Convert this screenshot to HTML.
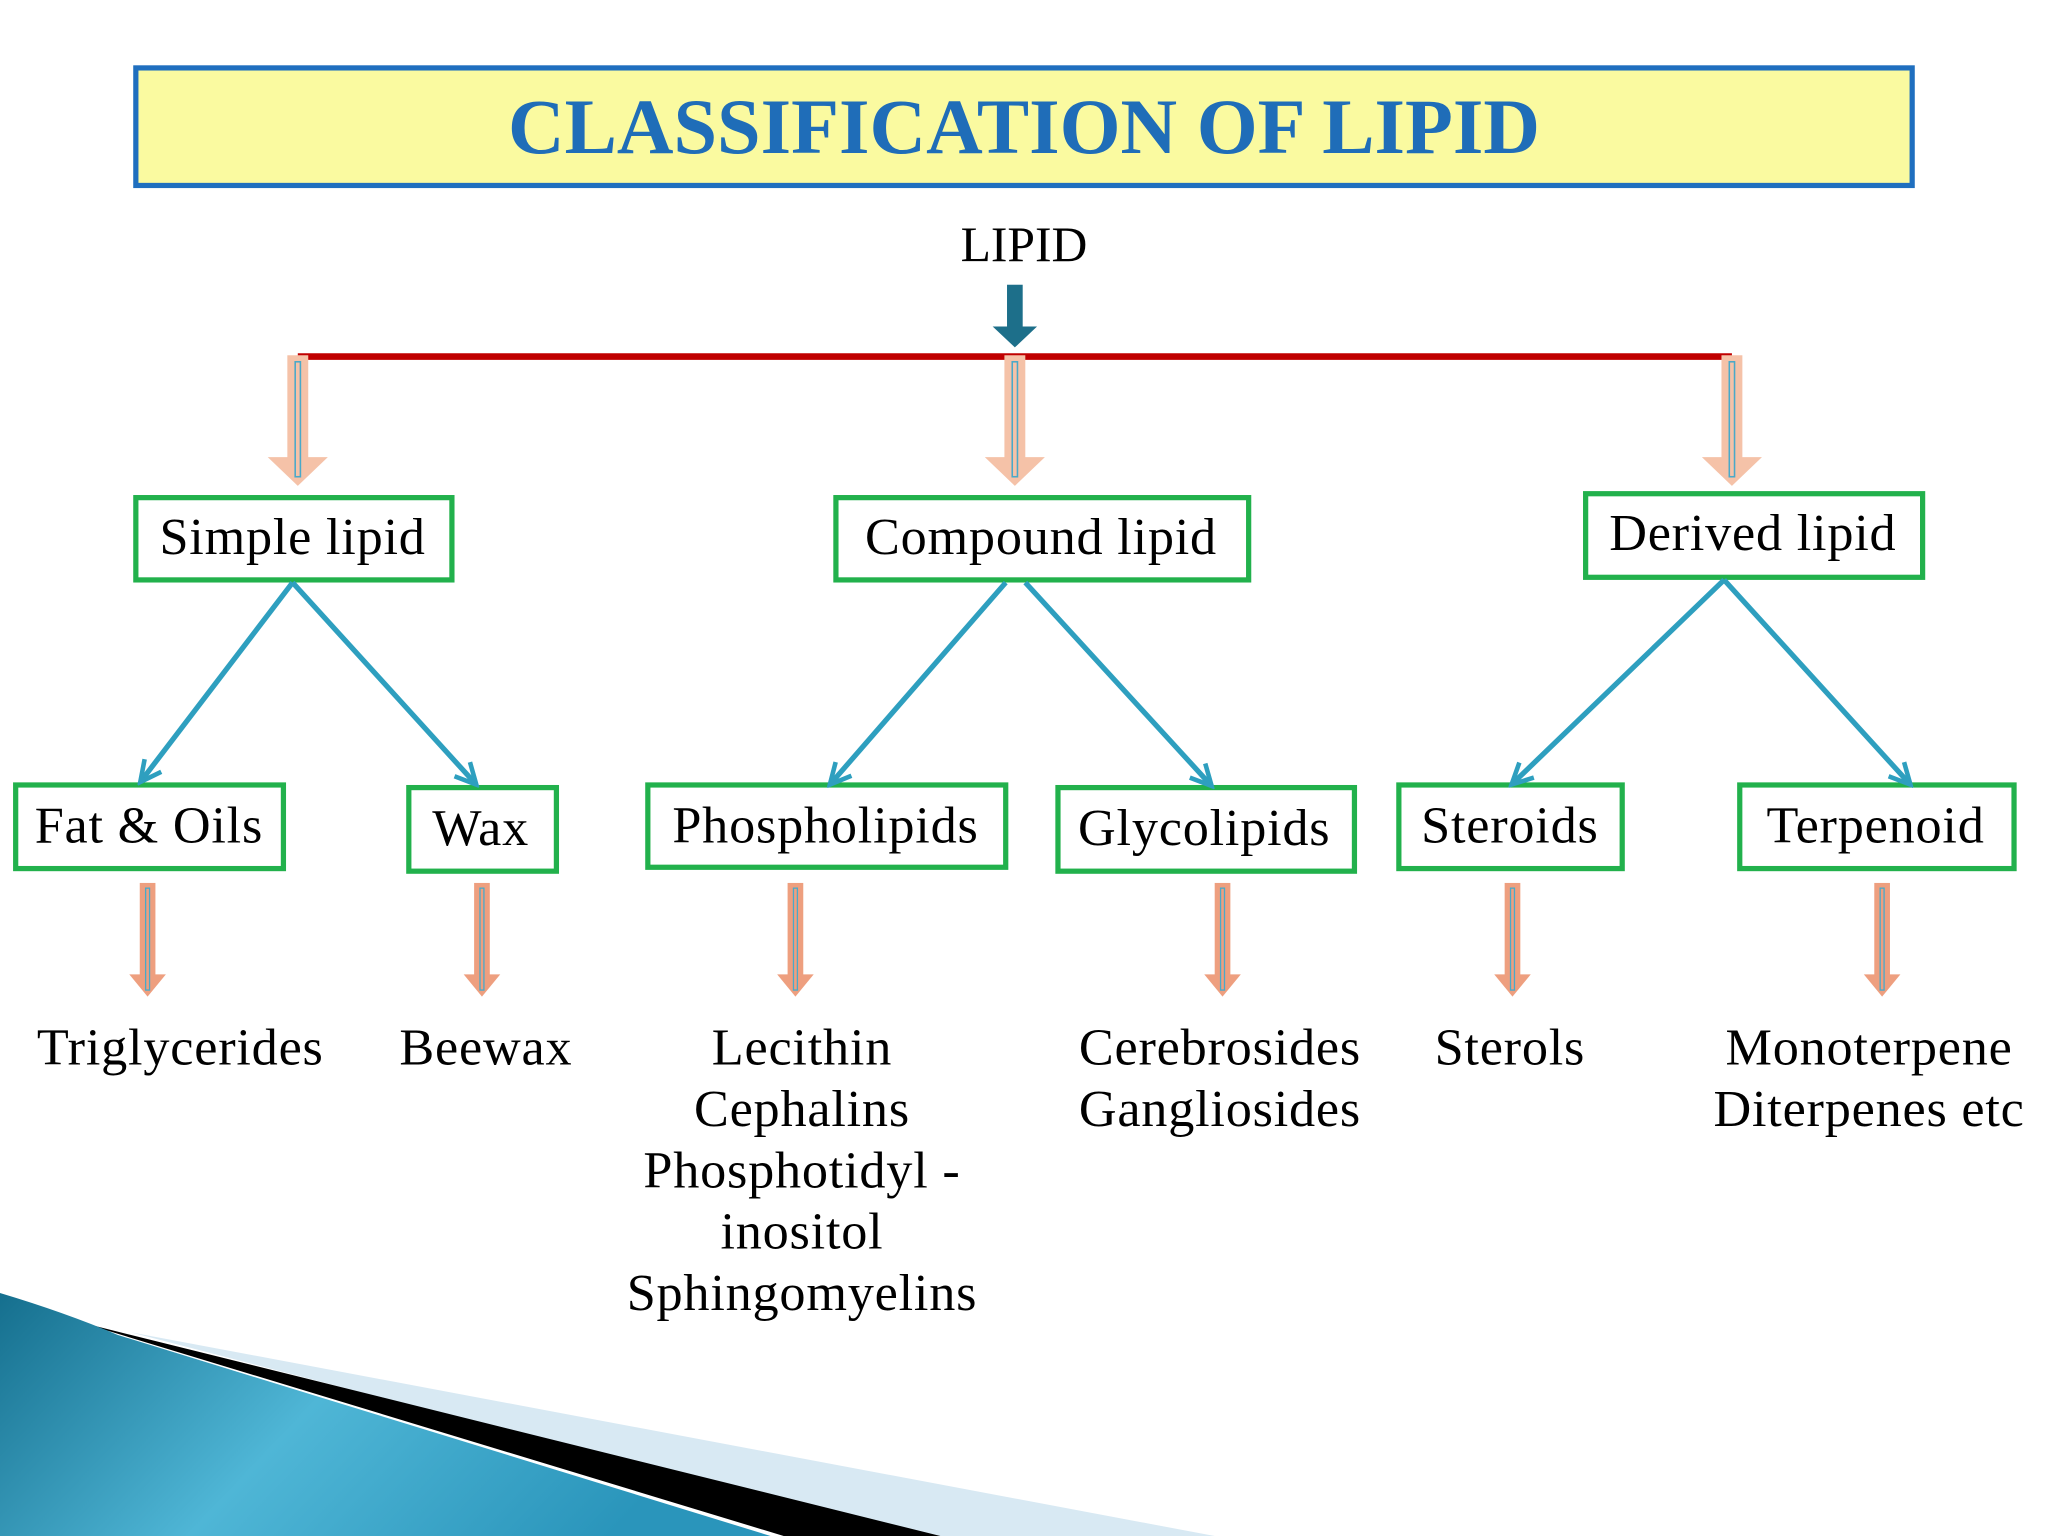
<!DOCTYPE html>
<html><head><meta charset="utf-8"><style>
html,body{margin:0;padding:0;background:#fff;}
svg{display:block;}
text{font-family:"Liberation Serif",serif;}
</style></head><body>
<svg width="2048" height="1536" viewBox="0 0 1568 1176" xmlns="http://www.w3.org/2000/svg">
<defs>
<linearGradient id="bg" x1="0" y1="0" x2="1" y2="0.3">
<stop offset="0" stop-color="#156f8e"/><stop offset="0.5" stop-color="#4fb6d6"/><stop offset="1" stop-color="#2a95bb"/>
</linearGradient>
<g id="pa"><rect x="-8" y="0" width="16" height="80" fill="#f5c2a8"/><polygon points="-23,78 23,78 0,100" fill="#f5c2a8"/><rect x="-2" y="5" width="4" height="88" fill="none" stroke="#49a9c9" stroke-width="1.2"/></g>
<g id="sa"><rect x="-6" y="0" width="12" height="72" fill="#ee9f7f"/><polygon points="-14,70 14,70 0,87" fill="#ee9f7f"/><rect x="-1.5" y="4" width="3" height="78" fill="none" stroke="#49a9c9" stroke-width="1"/></g>
<marker id="ah" markerWidth="20" markerHeight="20" refX="16" refY="10" orient="auto" markerUnits="userSpaceOnUse" viewBox="0 0 20 20"><path d="M1,2 L17,10 L1,18" fill="none" stroke="#2e9fbf" stroke-width="3.5"/></marker>
</defs>
<polygon points="100,1020 930,1176 700,1176" fill="#d8e9f3"/>
<polygon points="60,1012 100,1022 720,1176 600,1176" fill="#000"/>
<path d="M0,990 Q50,1005 90,1022 L590,1176 L0,1176 Z" fill="url(#bg)"/>
<rect x="104" y="52" width="1360" height="90" fill="#fafaa0" stroke="#1f6fbf" stroke-width="4"/>
<text x="784" y="117" text-anchor="middle" font-size="60" font-weight="bold" fill="#1f6db8">CLASSIFICATION OF LIPID</text>
<text x="784" y="200" text-anchor="middle" font-size="38">LIPID</text>
<rect x="771" y="218" width="12" height="32" fill="#1d6f8a"/>
<polygon points="760,250 794,250 777,266" fill="#1d6f8a"/>
<line x1="228" y1="273" x2="1326" y2="273" stroke="#c00000" stroke-width="5"/>
<use href="#pa" x="228" y="272"/><use href="#pa" x="777" y="272"/><use href="#pa" x="1326" y="272"/>
<g fill="none" stroke="#22b14c" stroke-width="4">
<rect x="104" y="381" width="242" height="63"/><rect x="640" y="381" width="316" height="63"/><rect x="1214" y="378" width="258" height="64"/>
<rect x="12" y="601" width="205" height="64"/><rect x="313" y="603" width="113" height="64"/><rect x="496" y="601" width="274" height="63"/>
<rect x="810" y="603" width="227" height="64"/><rect x="1071" y="601" width="171" height="64"/><rect x="1332" y="601" width="210" height="64"/>
</g>
<g font-size="40" text-anchor="middle" letter-spacing="0.6">
<text x="224" y="424">Simple lipid</text><text x="797" y="424">Compound lipid</text><text x="1342" y="421">Derived lipid</text>
<text x="114" y="645">Fat &amp; Oils</text><text x="368" y="647">Wax</text><text x="632" y="645">Phospholipids</text>
<text x="922" y="647">Glycolipids</text><text x="1156" y="645">Steroids</text><text x="1436" y="645">Terpenoid</text>
</g>
<g stroke="#2e9fbf" stroke-width="4" marker-end="url(#ah)">
<line x1="224" y1="446" x2="108" y2="598"/><line x1="224" y1="446" x2="364" y2="600"/>
<line x1="770" y1="446" x2="636" y2="600"/><line x1="785" y1="446" x2="927" y2="601"/>
<line x1="1320" y1="444" x2="1158" y2="600"/><line x1="1320" y1="444" x2="1462" y2="600"/>
</g>
<use href="#sa" x="113" y="676"/><use href="#sa" x="369" y="676"/><use href="#sa" x="609" y="676"/>
<use href="#sa" x="936" y="676"/><use href="#sa" x="1158" y="676"/><use href="#sa" x="1441" y="676"/>
<g font-size="40" text-anchor="middle" letter-spacing="0.6">
<text x="138" y="815">Triglycerides</text><text x="372" y="815">Beewax</text>
<text x="614" y="815">Lecithin</text><text x="614" y="862">Cephalins</text><text x="614" y="909">Phosphotidyl -</text><text x="614" y="956">inositol</text><text x="614" y="1003">Sphingomyelins</text>
<text x="934" y="815">Cerebrosides</text><text x="934" y="862">Gangliosides</text>
<text x="1156" y="815">Sterols</text>
<text x="1431" y="815">Monoterpene</text><text x="1431" y="862">Diterpenes etc</text>
</g>
</svg>
</body></html>
